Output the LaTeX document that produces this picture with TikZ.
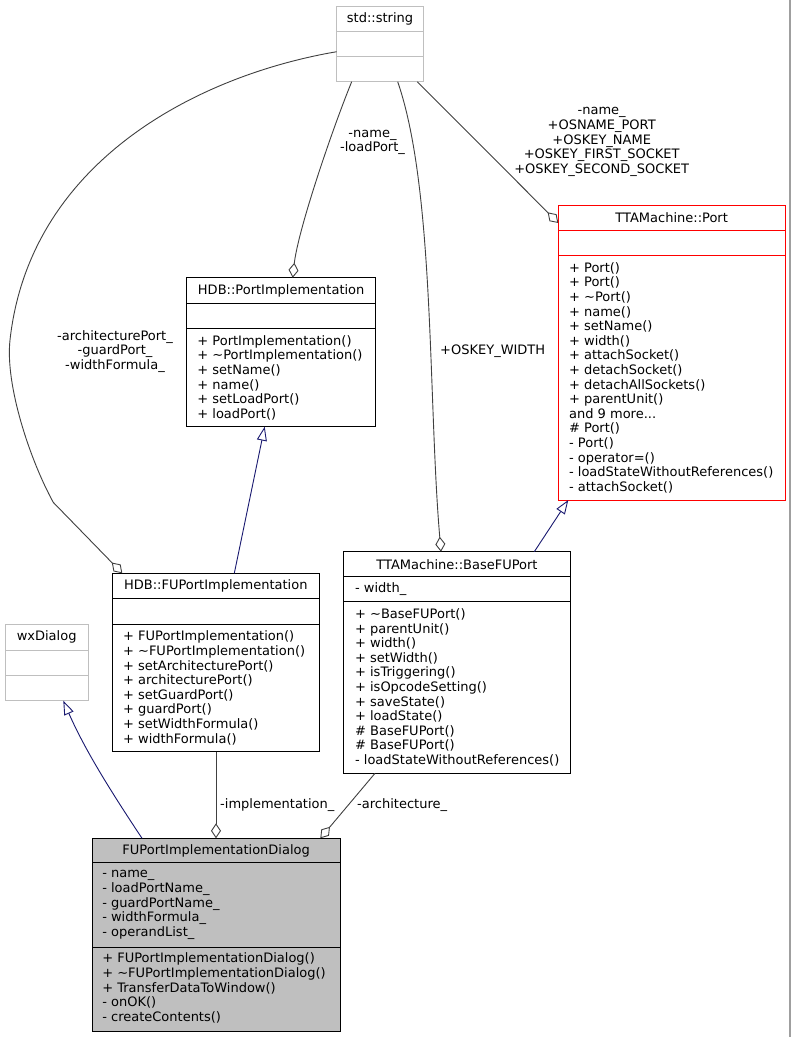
\documentclass[tikz,border=0pt]{standalone}
\usepackage{fontspec}
\setmainfont{DejaVu Sans}
\usetikzlibrary{fit,arrows.meta}
\definecolor{aggc}{HTML}{404040}
\definecolor{inhc}{HTML}{191970}
\definecolor{grayc}{HTML}{BFBFBF}
\definecolor{selfill}{HTML}{BFBFBF}
\definecolor{redc}{HTML}{FF0000}
\newcommand\dgfont{\fontsize{13}{14.6}\selectfont}
\newcommand\tld{\char`\~}
\tikzset{
  box/.style={draw=black, fill=white, inner sep=0pt, outer sep=0pt, line width=0.9pt},
  box div/.style={draw=black, line width=0.9pt},
  graybox/.style={draw=grayc, fill=white, inner sep=0pt, outer sep=0pt, line width=0.9pt},
  graybox div/.style={draw=grayc, line width=0.9pt},
  redbox/.style={draw=redc, fill=white, inner sep=0pt, outer sep=0pt, line width=0.9pt},
  redbox div/.style={draw=redc, line width=0.9pt},
  selbox/.style={draw=black, fill=selfill, inner sep=0pt, outer sep=0pt, line width=0.9pt},
  selbox div/.style={draw=black, line width=0.9pt},
  ttl/.style={font=\dgfont, inner sep=0pt},
  mem/.style={font=\dgfont, inner sep=0pt, align=left, anchor=west},
  lbl/.style={font=\dgfont, inner sep=0pt, align=center},
  agg/.style={draw=aggc, line width=0.9pt, -{Diamond[open, length=15pt, width=10pt]}},
  inh/.style={draw=inhc, line width=0.9pt, -{Triangle[open, length=14pt, width=10pt]}},
}
% #1 name, #2 style, #3 x1, #4 y1, #5 x2, #6 y2, #7 divider 1, #8 divider 2, #9 title
\newcommand\umlclass[9]{%
  \node[#2, fit={(#3,#4) (#5,#6)}] (#1) {};
  \draw[#2 div] (#3,#7) -- (#5,#7) (#3,#8) -- (#5,#8);
  \node[ttl] (#1-title) at ({(#3+#5)/2},{(#4+#7)/2}) {#9};
}
\begin{document}
\begin{tikzpicture}[x=1pt, y=-1pt]
\path[use as bounding box, fill=white] (0,0) rectangle (791,1037);
\draw[draw=gray!75, line width=1.5pt] (790.2,0) -- (790.2,1037);

% classes
\umlclass{str}{graybox}{336.7}{6}{423.3}{81.7}{31.7}{56.7}{std::string}
\umlclass{port}{redbox}{558.3}{205}{785}{500}{230}{255.3}{TTAMachine::Port}
\node[mem] (port-m) at (568.9,377.7) {+ Port()\\+ Port()\\+ \tld{}Port()\\+ name()\\+ setName()\\+ width()\\+ attachSocket()\\+ detachSocket()\\+ detachAllSockets()\\+ parentUnit()\\and 9 more...\\\# Port()\\- Port()\\- operator=()\\- loadStateWithoutReferences()\\- attachSocket()};

\umlclass{pi}{box}{186.7}{277.7}{375.7}{426.7}{303.3}{328.7}{HDB::PortImplementation}
\node[mem] (pi-m) at (197.2,377.7) {+ PortImplementation()\\+ \tld{}PortImplementation()\\+ setName()\\+ name()\\+ setLoadPort()\\+ loadPort()};

\umlclass{fupi}{box}{112.3}{573.3}{319.3}{751.7}{598.7}{624}{HDB::FUPortImplementation}
\node[mem] (fupi-m) at (122.9,687.9) {+ FUPortImplementation()\\+ \tld{}FUPortImplementation()\\+ setArchitecturePort()\\+ architecturePort()\\+ setGuardPort()\\+ guardPort()\\+ setWidthFormula()\\+ widthFormula()};

\umlclass{wx}{graybox}{5}{624.3}{88.3}{700.7}{650}{675}{wxDialog}

\umlclass{base}{box}{343.3}{551.7}{570.7}{773.3}{576.7}{601.7}{TTAMachine::BaseFUPort}
\node[mem] (base-a) at (354.9,589.2) {- width\_};
\node[mem] (base-m) at (354.9,687.5) {+ \tld{}BaseFUPort()\\+ parentUnit()\\+ width()\\+ setWidth()\\+ isTriggering()\\+ isOpcodeSetting()\\+ saveState()\\+ loadState()\\\# BaseFUPort()\\\# BaseFUPort()\\- loadStateWithoutReferences()};

\umlclass{dlg}{selbox}{92.3}{838.3}{340}{1031}{862.7}{947}{FUPortImplementationDialog}
\node[mem] (dlg-a) at (102.1,904.9) {- name\_\\- loadPortName\_\\- guardPortName\_\\- widthFormula\_\\- operandList\_};
\node[mem] (dlg-m) at (102.1,988) {+ FUPortImplementationDialog()\\+ \tld{}FUPortImplementationDialog()\\+ TransferDataToWindow()\\- onOK()\\- createContents()};

% connectors
\draw[agg] ([xshift=80.6pt]str.south west) -- ([yshift=-18pt]port.north west);
\draw[agg] ([xshift=61pt]str.south west) .. controls (435,190) and (428,400) .. ([xshift=97.7pt]base.north west);
\draw[agg] ([xshift=15pt]str.south west) .. controls (332,130) and (298,230) .. ([xshift=106pt]pi.north west);
\draw[agg] ([yshift=-7.85pt]str.west) .. controls (200,75) and (30,160) .. (10,340) .. controls (5,385) and (30,460) .. (53.3,502.4) -- ([xshift=10pt]fupi.north west);
\draw[inh] ([xshift=122pt]fupi.north west) -- ([xshift=78pt]pi.south west);
\draw[inh] ([xshift=191pt]base.north west) -- ([xshift=10pt]port.south west);
\draw[inh] ([xshift=49.7pt]dlg.north west) .. controls (110,790) and (85,750) .. ([xshift=58.3pt]wx.south west);
\draw[agg] ([xshift=103.7pt]fupi.south west) -- ([xshift=123.7pt]dlg.north west);
\draw[agg] ([xshift=31.7pt]base.south west) -- ([xshift=228pt]dlg.north west);

% connector labels
\node[lbl] (l-port) at (601.7,142) {-name\_\\+OSNAME\_PORT\\+OSKEY\_NAME\\+OSKEY\_FIRST\_SOCKET\\+OSKEY\_SECOND\_SOCKET};
\node[lbl] (l-pi) at (372.5,142.5) {-name\_\\-loadPort\_};
\node[lbl] (l-base) at (492.7,351.7) {+OSKEY\_WIDTH};
\node[lbl] (l-fupi) at (115,351.5) {-architecturePort\_\\-guardPort\_\\-widthFormula\_};
\node[lbl, anchor=west] (l-impl) at (220,805) {-implementation\_};
\node[lbl, anchor=west] (l-arch) at (357,805) {-architecture\_};
\end{tikzpicture}
\end{document}
